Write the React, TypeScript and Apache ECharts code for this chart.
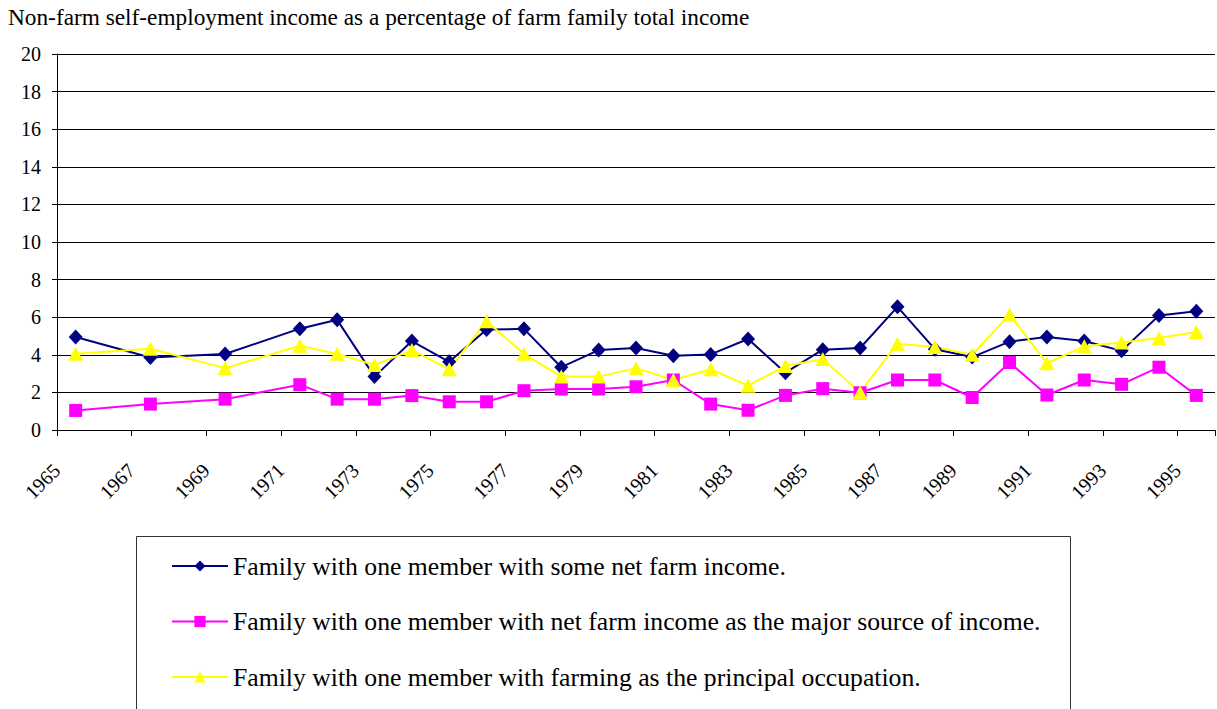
import React, { useEffect, useRef } from "react";
import * as echarts from "echarts";

const years: string[] = [];
for (let y = 1965; y <= 1995; y++) years.push(String(y));

const someNetFarm: (number | null)[] = [
  4.95, null, 3.86, null, 4.04, null, 5.39, 5.86, 2.84, 4.73, 3.63, 5.34, 5.38, 3.34, 4.25, 4.36,
  3.95, 4.02, 4.84, 3.05, 4.27, 4.36, 6.55, 4.3, 3.88, 4.7, 4.95, 4.73, 4.21, 6.09, 6.32,
];
const majorSource: (number | null)[] = [
  1.04, null, 1.38, null, 1.64, null, 2.41, 1.64, 1.64, 1.83, 1.5, 1.5, 2.09, 2.18, 2.18, 2.3,
  2.66, 1.38, 1.05, 1.84, 2.2, 1.98, 2.66, 2.66, 1.73, 3.59, 1.86, 2.66, 2.43, 3.34, 1.84,
];
const principalOcc: (number | null)[] = [
  4.05, null, 4.32, null, 3.29, null, 4.48, 4.05, 3.46, 4.25, 3.23, 5.79, 4.05, 2.84, 2.84, 3.29,
  2.66, 3.23, 2.36, 3.41, 3.77, 2.0, 4.59, 4.41, 4.0, 6.14, 3.55, 4.45, 4.66, 4.89, 5.21,
];

const seriesNames = [
  "Family with one member with some net farm income.",
  "Family with one member with net farm income as the major source of income.",
  "Family with one member with farming as the principal occupation.",
];
const titleText = "Non-farm self-employment income as a percentage of farm family total income";

const FONT = "Liberation Serif";

export default function App() {
  const ref = useRef<HTMLDivElement>(null);
  useEffect(() => {
    if (!ref.current) return;
    const chart = echarts.init(ref.current, undefined, { renderer: "svg" });
    chart.setOption({
      animation: false,
      backgroundColor: "#ffffff",
      textStyle: { fontFamily: FONT },
      title: {
        text: titleText,
        left: 8,
        top: 5,
        padding: 0,
        textStyle: { fontFamily: FONT, fontSize: 23.3, fontWeight: "normal", color: "#000" },
      },
      grid: { left: 57, right: 2, top: 54, bottom: 279, containLabel: false },
      xAxis: {
        type: "category",
        data: years,
        boundaryGap: true,
        axisLine: { lineStyle: { color: "#000", width: 1 } },
        axisTick: { show: true, interval: 1, length: 6, lineStyle: { color: "#000" } },
        axisLabel: {
          interval: 1,
          rotate: 45,
          margin: 18,
          padding: [0, 27, 0, 0],
          fontFamily: FONT,
          fontSize: 20,
          color: "#000",
        },
        splitLine: { show: false },
      },
      yAxis: {
        type: "value",
        min: 0,
        max: 20,
        interval: 2,
        axisLine: { show: true, lineStyle: { color: "#000", width: 1 } },
        axisTick: { show: true, length: 5, lineStyle: { color: "#000" } },
        axisLabel: { margin: 16, fontFamily: FONT, fontSize: 20, color: "#000" },
        splitLine: { show: true, lineStyle: { color: "#000", width: 1 } },
      },
      legend: {
        orient: "vertical",
        left: 171,
        top: 553,
        padding: 0,
        itemGap: 29.5,
        itemWidth: 56,
        itemHeight: 14,
        textStyle: { fontFamily: FONT, fontSize: 25.7, color: "#000" },
        data: seriesNames,
      },
      graphic: [
        {
          type: "rect",
          shape: { x: 136.5, y: 536.5, width: 934, height: 200 },
          style: { fill: "none", stroke: "#333", lineWidth: 1 },
          silent: true,
        },
      ],
      series: [
        {
          name: seriesNames[0],
          type: "line",
          data: someNetFarm,
          connectNulls: true,
          symbol: "diamond",
          symbolSize: [14, 15],
          itemStyle: { color: "#000080" },
          lineStyle: { color: "#000080", width: 2 },
        },
        {
          name: seriesNames[1],
          type: "line",
          data: majorSource,
          connectNulls: true,
          symbol: "rect",
          symbolSize: 13,
          itemStyle: { color: "#FF00FF" },
          lineStyle: { color: "#FF00FF", width: 2 },
        },
        {
          name: seriesNames[2],
          type: "line",
          data: principalOcc,
          connectNulls: true,
          symbol: "triangle",
          symbolSize: [15, 14],
          itemStyle: { color: "#FFFF00" },
          lineStyle: { color: "#FFFF00", width: 2 },
        },
      ],
    });
    return () => chart.dispose();
  }, []);
  return (
    <div
      ref={ref}
      style={{ position: "fixed", left: 0, top: 0, width: 1217, height: 709, background: "#fff" }}
    />
  );
}
